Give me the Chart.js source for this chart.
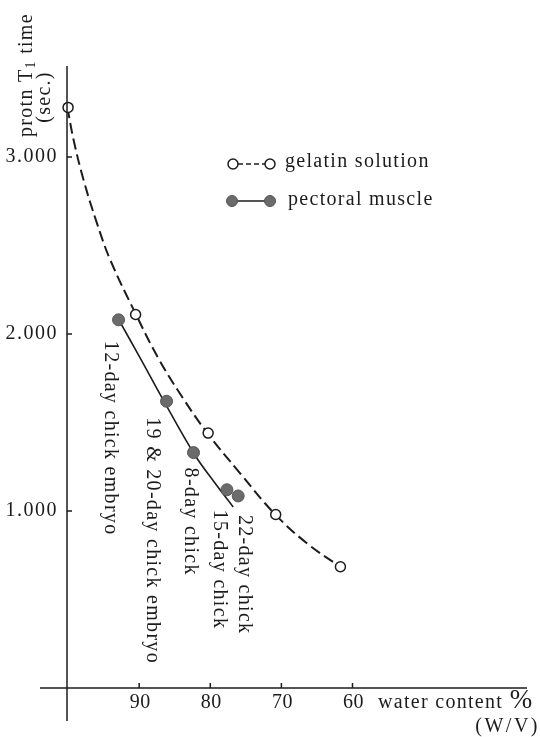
<!DOCTYPE html>
<html>
<head>
<meta charset="utf-8">
<script src="https://cdn.jsdelivr.net/npm/chart.js@4"></script>
<style>
  html, body { margin: 0; padding: 0; background: #fff; }
  canvas { display: block; }
</style>
</head>
<body>
<canvas id="t1Chart" width="540" height="737"></canvas>
<script>
// values
const waterGelatin = [100, 90.5, 80.3, 70.8, 61.7];
const t1Gelatin = [3.28, 2.11, 1.44, 0.98, 0.685];

// hand-drawn dashed curve through the gelatin points
const waterGelFit = [100.1, 99.22, 97.82, 95.93, 94.06, 90.41, 87.32, 83.95, 80.39, 75.8, 71.02, 66.42, 61.74];
const t1GelFit = [3.281, 3.096, 2.87, 2.625, 2.418, 2.107, 1.864, 1.644, 1.439, 1.213, 0.987, 0.818, 0.685];

const waterMuscle = [92.9, 86.15, 82.36, 77.66, 76.08];
const t1Muscle = [2.08, 1.62, 1.33, 1.12, 1.085];
const muscleLabels = ['12-day chick embryo', '19 & 20-day chick embryo', '8-day chick', '15-day chick', '22-day chick'];

// hand-drawn curve through the muscle points
const waterFit = [92.94, 89.85, 86.76, 82.26, 79.45, 76.78];
const t1Fit = [2.085, 1.864, 1.638, 1.322, 1.164, 1.023];

const xTicks = [90, 80, 70, 60];
const yTicks = [1, 2, 3];

// label offsets from each muscle point (px)
const labelOffsets = [[-8, 21], [-14, 16], [-3, 15], [-8, 20], [6, 19]];

const INK = '#1c1c1c';
const GREY = '#6b6b6b';
const SERIF = '"Liberation Serif", "DejaVu Serif", serif';
const SIZE = 20;
const SPACING = 1.3;

const toPoints = (xs, ys) => xs.map((x, i) => ({ x: x, y: ys[i] }));

const textAt = (ctx, str, x, y, angle, opts) => {
  ctx.save();
  ctx.translate(x, y);
  ctx.rotate(angle);
  ctx.font = (opts.size || SIZE) + 'px ' + SERIF;
  ctx.letterSpacing = (opts.spacing == null ? SPACING : opts.spacing) + 'px';
  ctx.textAlign = opts.align || 'left';
  ctx.textBaseline = opts.baseline || 'middle';
  ctx.fillStyle = INK;
  ctx.fillText(str, 0, 0);
  ctx.restore();
};

const figurePlugin = {
  id: 'figure',
  afterDraw(chart) {
    const ctx = chart.ctx;
    const xs = chart.scales.x;
    const ys = chart.scales.y;
    const area = chart.chartArea;
    const x0 = area.left;
    const y0 = ys.getPixelForValue(0);

    ctx.save();
    ctx.strokeStyle = INK;
    ctx.lineWidth = 1.5;
    ctx.beginPath();
    ctx.moveTo(x0, area.top);
    ctx.lineTo(x0, 721);
    ctx.moveTo(40, y0);
    ctx.lineTo(area.right, y0);
    xTicks.forEach((v) => {
      const px = xs.getPixelForValue(v);
      ctx.moveTo(px, y0);
      ctx.lineTo(px, y0 - 5);
    });
    yTicks.forEach((v) => {
      const py = ys.getPixelForValue(v);
      ctx.moveTo(x0, py);
      ctx.lineTo(x0 + 5, py);
    });
    ctx.stroke();
    ctx.restore();

    xTicks.forEach((v) => {
      textAt(ctx, String(v), xs.getPixelForValue(v) + 1, y0 + 15, 0, { align: 'center', spacing: 0.5 });
    });
    yTicks.forEach((v) => {
      textAt(ctx, v.toFixed(3), 58, ys.getPixelForValue(v), 0, { align: 'right', spacing: 1.5 });
    });

    // y title
    ctx.save();
    ctx.translate(27, 137);
    ctx.rotate(-Math.PI / 2);
    ctx.font = SIZE + 'px ' + SERIF;
    ctx.letterSpacing = SPACING + 'px';
    ctx.textBaseline = 'middle';
    ctx.fillStyle = INK;
    let cx = 0;
    ctx.fillText('protn T', cx, 0);
    cx += ctx.measureText('protn T').width;
    ctx.font = '14px ' + SERIF;
    ctx.fillText('1', cx, 4);
    cx += ctx.measureText('1').width;
    ctx.font = SIZE + 'px ' + SERIF;
    ctx.fillText(' time', cx, 0);
    ctx.restore();
    textAt(ctx, '(sec.)', 45, 97, -Math.PI / 2, { align: 'center' });

    // x title
    textAt(ctx, 'water content', 378, y0 + 15, 0, {});
    textAt(ctx, '%', 521, y0 + 13, 0, { align: 'center', size: 27, spacing: 0 });
    textAt(ctx, '(W/V)', 540, y0 + 39, 0, { align: 'right', spacing: 2.5 });

    // legend
    ctx.save();
    ctx.strokeStyle = INK;
    ctx.lineWidth = 1.5;
    ctx.setLineDash([5, 3]);
    ctx.beginPath();
    ctx.moveTo(238, 164);
    ctx.lineTo(265, 164);
    ctx.stroke();
    ctx.setLineDash([]);
    ctx.beginPath();
    ctx.moveTo(232, 201);
    ctx.lineTo(270, 201);
    ctx.stroke();
    [233, 270].forEach((cxp) => {
      ctx.beginPath();
      ctx.arc(cxp, 164, 5, 0, Math.PI * 2);
      ctx.fillStyle = '#fff';
      ctx.fill();
      ctx.stroke();
    });
    [232, 270].forEach((cxp) => {
      ctx.beginPath();
      ctx.arc(cxp, 201, 5.5, 0, Math.PI * 2);
      ctx.fillStyle = GREY;
      ctx.fill();
      ctx.lineWidth = 1;
      ctx.strokeStyle = '#555';
      ctx.stroke();
    });
    ctx.restore();
    textAt(ctx, 'gelatin solution', 285, 167, 0, { baseline: 'alphabetic' });
    textAt(ctx, 'pectoral muscle', 288, 205, 0, { baseline: 'alphabetic' });

    // point annotations
    muscleLabels.forEach((lab, i) => {
      const px = xs.getPixelForValue(waterMuscle[i]) + labelOffsets[i][0];
      const py = ys.getPixelForValue(t1Muscle[i]) + labelOffsets[i][1];
      textAt(ctx, lab, px, py, Math.PI / 2, {});
    });
  }
};

const ctx = document.getElementById('t1Chart').getContext('2d');
new Chart(ctx, {
  type: 'scatter',
  data: {
    datasets: [
      {
        label: 'pectoral muscle',
        data: toPoints(waterMuscle, t1Muscle),
        showLine: false,
        pointRadius: 6,
        pointBackgroundColor: GREY,
        pointBorderColor: '#555',
        pointBorderWidth: 1,
        order: 0
      },
      {
        label: 'gelatin solution',
        data: toPoints(waterGelatin, t1Gelatin),
        showLine: false,
        pointRadius: 5,
        pointBackgroundColor: '#fff',
        pointBorderColor: INK,
        pointBorderWidth: 1.5,
        order: 1
      },
      {
        label: 'muscle curve',
        data: toPoints(waterFit, t1Fit),
        showLine: true,
        borderColor: INK,
        borderWidth: 1.6,
        pointRadius: 0,
        tension: 0.4,
        order: 2
      },
      {
        label: 'gelatin curve',
        data: toPoints(waterGelFit, t1GelFit),
        showLine: true,
        borderColor: INK,
        borderWidth: 2,
        borderDash: [11, 5],
        pointRadius: 0,
        tension: 0.4,
        order: 3
      }
    ]
  },
  options: {
    responsive: false,
    animation: false,
    devicePixelRatio: 1,
    layout: { padding: { left: 67, right: 13, top: 66, bottom: 48 } },
    scales: {
      x: { type: 'linear', reverse: true, min: 35.46, max: 100.15, display: false },
      y: { type: 'linear', min: -0.0056, max: 3.514, display: false }
    },
    plugins: {
      legend: { display: false },
      tooltip: { enabled: false }
    },
    clip: false
  },
  plugins: [figurePlugin]
});
</script>
</body>
</html>
